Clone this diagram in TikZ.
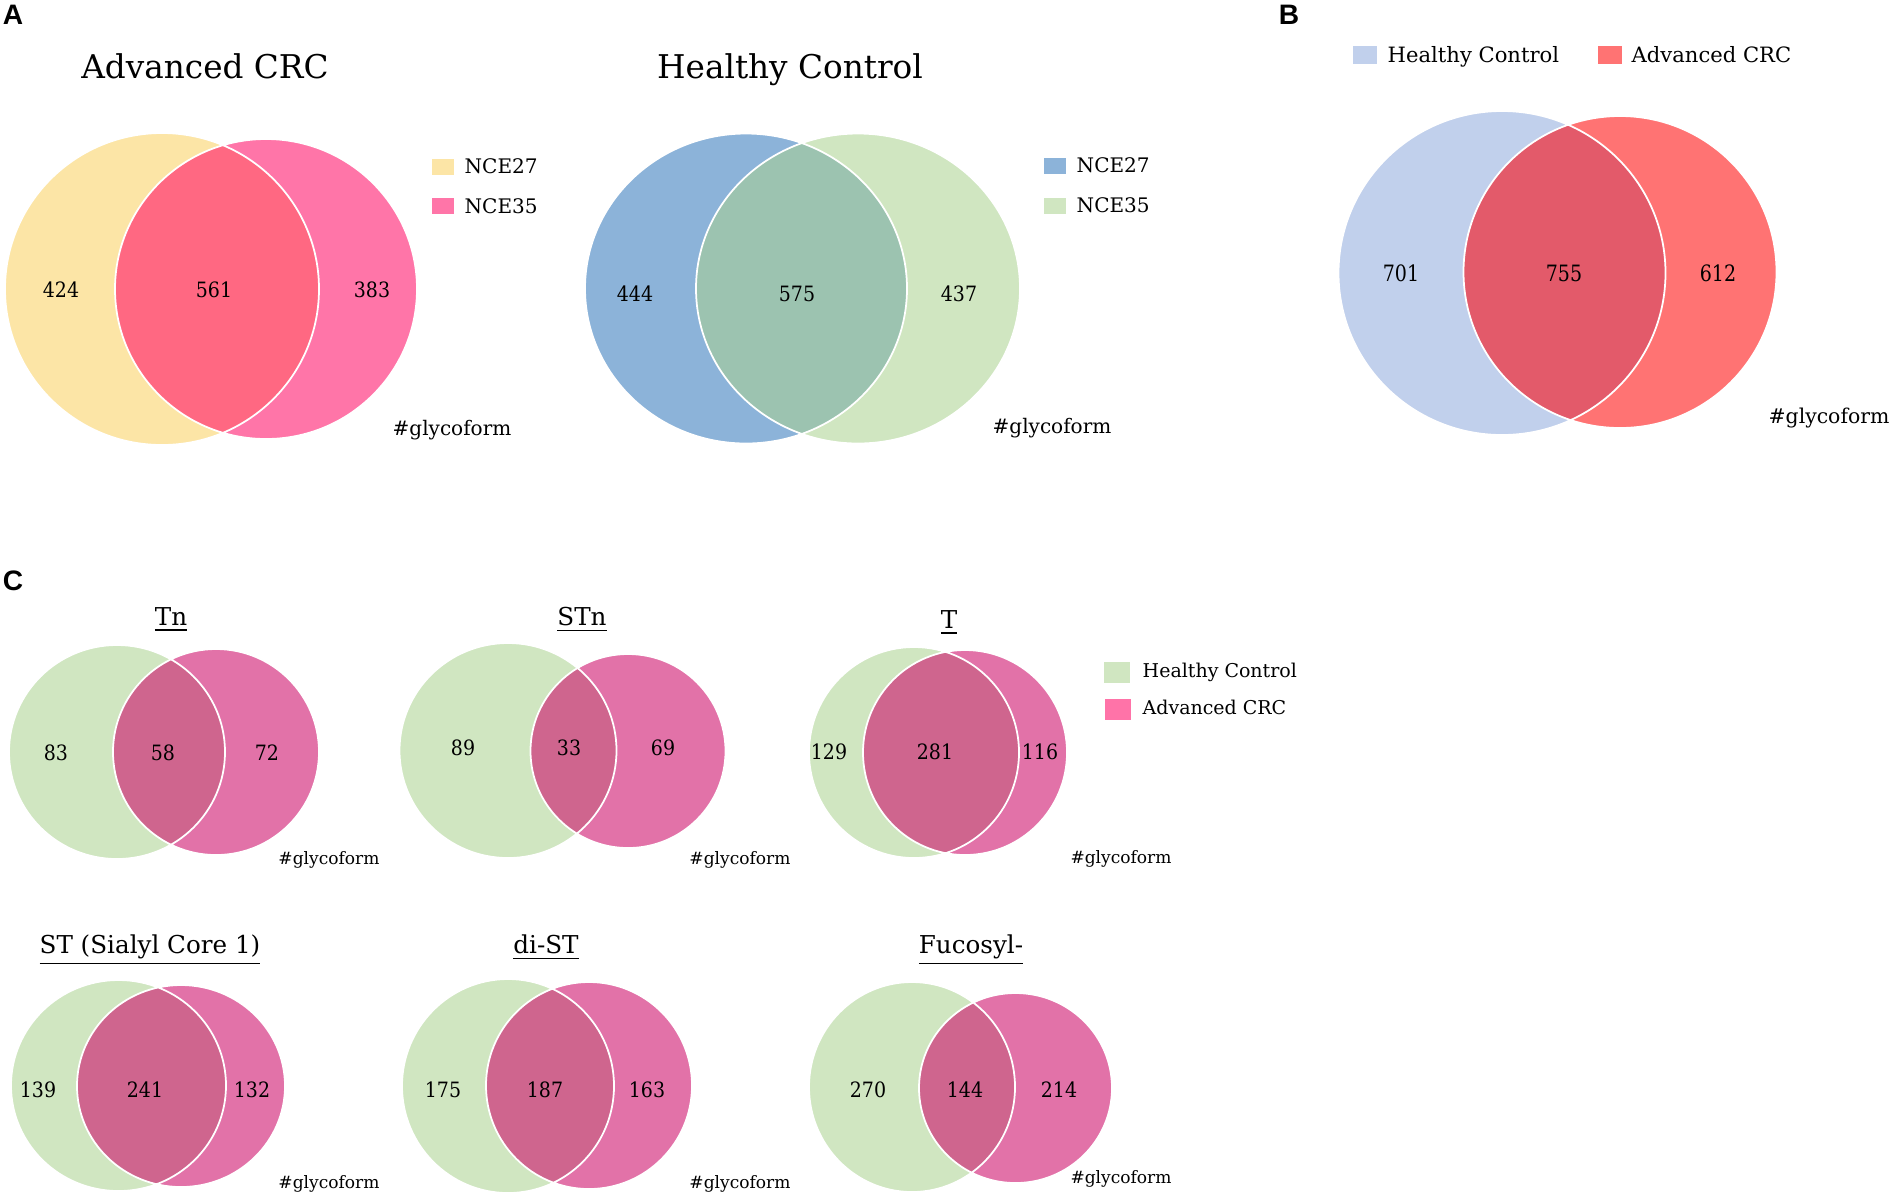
\documentclass[tikz,border=0pt]{standalone}
\usepackage{fontspec}
\setmainfont{DejaVu Serif}
\newfontfamily\panelfont{Liberation Sans}
\usetikzlibrary{positioning}
\definecolor{yelA}{HTML}{FCE5A6}
\definecolor{pinkA}{HTML}{FF75A8}
\definecolor{redA}{HTML}{FF6882}
\definecolor{blueA}{HTML}{8CB3D9}
\definecolor{greenA}{HTML}{D0E6C1}
\definecolor{tealA}{HTML}{9CC3B0}
\definecolor{blueB}{HTML}{C1D0EC}
\definecolor{redB}{HTML}{FF7373}
\definecolor{crimB}{HTML}{E35A6A}
\definecolor{greenC}{HTML}{D0E6C1}
\definecolor{pinkC}{HTML}{E272A8}
\definecolor{mauveC}{HTML}{CF658E}
\definecolor{keyC}{HTML}{FF73A8}
\begin{document}
\begin{tikzpicture}[x=.01cm, y=-.01cm,
 lens/.style={draw=white, line width=.5pt},
 lett/.style={anchor=base, font=\panelfont\bfseries\fontsize{8}{9}\selectfont},
 ttl/.style={anchor=base, font=\fontsize{9.3}{11}\selectfont},
 lab/.style={anchor=base, font=\fontsize{5.7}{6}\selectfont},
 keytext/.style={lab, anchor=base west, inner xsep=0pt},
 num/.style={anchor=base, xscale=.9, font=\fontsize{6}{7}\selectfont},
 sub/.style={anchor=base, font=\fontsize{7}{8}\selectfont},
 small/.style={anchor=base, font=\fontsize{4.85}{5}\selectfont},
 key/.style={anchor=north west, inner sep=0, minimum width=.22cm, minimum height=.165cm}]
\useasboundingbox (0,0) rectangle (1894,1199);
% the nine pairs of sets
\foreach \v/\ax/\ay/\arx/\ary/\bx/\by/\brx/\bry/\ca/\cb/\cab in {
 a1/162/289/157/156/266/289/151/150/yelA/pinkA/redA,
 a2/746/288.5/161/155/858/288.5/162/155/blueA/greenA/tealA,
 b/1502/273/163.5/162/1620/272/156.5/156/blueB/redB/crimB,
 tn/117/752/108/107/216/752/103/103/greenC/pinkC/mauveC,
 stn/508/750.5/108.5/107.5/628/751/97.5/97/greenC/pinkC/mauveC,
 t/914/752.5/105/105.5/965/752.5/102/102.5/greenC/pinkC/mauveC,
 st/118.5/1085.5/107.5/105.5/181/1086/104/101/greenC/pinkC/mauveC,
 dist/508/1086/106/107/589/1085.5/103/103.5/greenC/pinkC/mauveC,
 fuc/912/1087/103/105/1015.5/1088/96.5/95/greenC/pinkC/mauveC} {
 \fill[\ca] (\ax,\ay) ellipse[x radius=\arx, y radius=\ary];
 \fill[\cb] (\bx,\by) ellipse[x radius=\brx, y radius=\bry];
 \begin{scope}
 \clip (\ax,\ay) ellipse[x radius=\arx, y radius=\ary];
 \fill[\cab] (\bx,\by) ellipse[x radius=\brx, y radius=\bry];
 \end{scope}
 \path[lens] (\ax,\ay) ellipse[x radius=\arx, y radius=\ary] (\bx,\by) ellipse[x radius=\brx, y radius=\bry];
}
% A
\node[lett] (pA) at (13,24) {A};
\node[ttl] (hA1) at (205,78) {Advanced CRC};
\node[ttl] (hA2) at (790,78) {Healthy Control};
\node[key, fill=yelA] (k1) at (431,158) {};
\node[keytext] (k1t) at (464,173) {NCE27};
\node[key, fill=pinkA] (k2) at (431,197) {};
\node[keytext] (k2t) at (464,213) {NCE35};
\node[key, fill=blueA] (k3) at (1043,157) {};
\node[keytext] (k3t) at (1076,172) {NCE27};
\node[key, fill=greenA] (k4) at (1043,197) {};
\node[keytext] (k4t) at (1076,212) {NCE35};
\foreach \n/\x/\y in {424/61/297, 561/214/297, 383/372/297, 444/635/301, 575/797/301, 437/959/301}
 \node[num] (n\n) at (\x,\y) {\n};
\node[lab] (g1) at (452,435) {\#glycoform};
\node[lab] (g2) at (1052,433) {\#glycoform};
% B
\node[lett] (pB) at (1289,24) {B};
\node[key, fill=blueB, minimum width=.24cm, minimum height=.18cm] (k5) at (1352,45) {};
\node[keytext, font=\fontsize{6}{7}\selectfont] (k5t) at (1387,62) {Healthy Control};
\node[key, fill=redB, minimum width=.24cm, minimum height=.18cm] (k6) at (1597,45) {};
\node[keytext, font=\fontsize{6}{7}\selectfont] (k6t) at (1631,62) {Advanced CRC};
\foreach \n/\x in {701/1401, 755/1564, 612/1718}
 \node[num, xscale=.94, font=\fontsize{6.4}{7}\selectfont] (n\n) at (\x,281) {\n};
\node[lab, font=\fontsize{5.8}{6}\selectfont] (g3) at (1829,423) {\#glycoform};
% C
\node[lett] (pC) at (13,590) {C};
\foreach \h/\tx/\ty/\l/\lx/\m/\mx/\r/\rx/\ny/\gx/\gy in {
 Tn/171/625/83/56/58/163/72/267/760/329/864,
 STn/582/625/89/463/33/569/69/663/755/740/864,
 T/949/628/129/829/281/935/116/1040/759/1121/863,
 ST (Sialyl Core 1)/150/953/139/38/241/145/132/252/1097/329/1188,
 di-ST/546/953/175/443/187/545/163/647/1097/740/1188,
 Fucosyl-/971/953/270/868/144/965/214/1059/1097/1121/1183} {
 \node[sub] (h\l) at (\tx,\ty) {\underline{\h}};
 \node[num] (n\l) at (\lx,\ny) {\l};
 \node[num] (n\m) at (\mx,\ny) {\m};
 \node[num] (n\r) at (\rx,\ny) {\r};
 \node[small] (g\l) at (\gx,\gy) {\#glycoform};
}
\node[key, fill=greenC, minimum width=.26cm, minimum height=.21cm] (k7) at (1103,661) {};
\node[keytext, font=\fontsize{5.4}{6}\selectfont] (k7t) at (1142,677) {Healthy Control};
\node[key, fill=keyC, minimum width=.26cm, minimum height=.21cm] (k8) at (1104,698) {};
\node[keytext, font=\fontsize{5.4}{6}\selectfont] (k8t) at (1142,714) {Advanced CRC};
\end{tikzpicture}
\end{document}
